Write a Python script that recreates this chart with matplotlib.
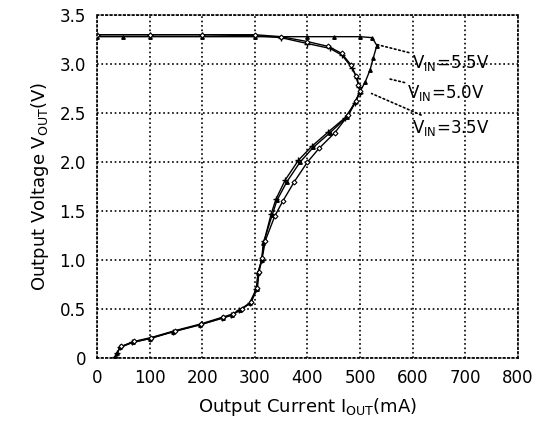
"""
Output voltage vs output current (foldback current limit) for three input voltages.
"""

import matplotlib
matplotlib.use("Agg")
import matplotlib.pyplot as plt

# === DATA ===
I_55 = [0, 50, 100, 200, 300, 400, 450, 500, 523, 532, 525, 519, 510, 500, 490,
        475, 443, 411, 386, 361, 342, 333, 316, 313, 306, 304, 291, 272, 257,
        240, 196, 145, 101, 68, 44, 38, 34]
V_55 = [3.28, 3.28, 3.28, 3.28, 3.28, 3.28, 3.28, 3.28, 3.27, 3.19, 3.06, 2.94,
        2.82, 2.72, 2.61, 2.46, 2.30, 2.15, 2.00, 1.80, 1.61, 1.46, 1.17, 1.00,
        0.87, 0.71, 0.56, 0.49, 0.44, 0.41, 0.34, 0.27, 0.20, 0.16, 0.11, 0.05,
        0.01]

I_50 = [0, 100, 200, 300, 350, 400, 443, 466, 485, 494, 498, 500, 490, 471,
        440, 408, 383, 358, 340, 331, 318, 313, 306, 303, 290, 270, 255, 238,
        195, 145, 100, 66, 44, 38, 34]
V_50 = [3.30, 3.30, 3.30, 3.29, 3.27, 3.21, 3.16, 3.09, 2.96, 2.86, 2.77, 2.71,
        2.60, 2.45, 2.31, 2.16, 2.02, 1.82, 1.62, 1.47, 1.20, 1.00, 0.87, 0.71,
        0.56, 0.49, 0.44, 0.41, 0.34, 0.27, 0.20, 0.16, 0.11, 0.05, 0.01]

I_35 = [0, 100, 200, 300, 350, 400, 440, 465, 483, 492, 497, 500, 492, 478,
        452, 422, 400, 375, 353, 338, 320, 314, 308, 305, 293, 275, 258, 240,
        198, 148, 103, 70, 46]
V_35 = [3.30, 3.30, 3.30, 3.30, 3.28, 3.23, 3.18, 3.11, 2.99, 2.88, 2.79, 2.73,
        2.62, 2.48, 2.30, 2.14, 2.00, 1.80, 1.60, 1.45, 1.20, 1.02, 0.88, 0.72,
        0.57, 0.50, 0.45, 0.42, 0.35, 0.28, 0.21, 0.17, 0.12]

LABELS = ["V$_\\mathrm{IN}$=5.5V", "V$_\\mathrm{IN}$=5.0V", "V$_\\mathrm{IN}$=3.5V"]
X_TICKS = [0, 100, 200, 300, 400, 500, 600, 700, 800]
Y_TICKS = [0, 0.5, 1.0, 1.5, 2.0, 2.5, 3.0, 3.5]
Y_TICKLABELS = ["0", "0.5", "1.0", "1.5", "2.0", "2.5", "3.0", "3.5"]

# leader lines: (point on curve, text position)
LEADERS = [((532, 3.20), (598, 3.01)),
           ((555, 2.85), (590, 2.71)),
           ((522, 2.70), (598, 2.35))]

plt.rcParams["font.family"] = "DejaVu Sans"

fig = plt.figure(figsize=(5.48, 4.32), dpi=100)
ax = fig.add_axes([0.177, 0.171, 0.768, 0.794])

ax.plot(I_55, V_55, color="black", linewidth=1.0, marker="^", markersize=2.5)
ax.plot(I_50, V_50, color="black", linewidth=1.0, marker="+", markersize=4)
ax.plot(I_35, V_35, color="black", linewidth=1.0, marker="D", markersize=2.5,
        markerfacecolor="white", markeredgewidth=0.8)

for label, (xy, xytext) in zip(LABELS, LEADERS):
    ax.annotate(label, xy=xy, xytext=xytext, fontsize=12, va="center", ha="left",
                arrowprops=dict(arrowstyle="-", linestyle=":", color="black",
                                linewidth=1.2, shrinkA=0, shrinkB=0))

ax.set_xlim(0, 800)
ax.set_ylim(0, 3.5)
ax.set_xticks(X_TICKS)
ax.set_yticks(Y_TICKS)
ax.set_yticklabels(Y_TICKLABELS)
ax.tick_params(length=0, labelsize=12, pad=8)
ax.grid(True, linestyle=":", color="black", linewidth=1.2)
for sp in ax.spines.values():
    sp.set_linestyle(":")
    sp.set_linewidth(1.2)

ax.set_xlabel("Output Current I$_\\mathrm{OUT}$(mA)", fontsize=13, labelpad=6)
ax.set_ylabel("Output Voltage V$_\\mathrm{OUT}$(V)", fontsize=13, labelpad=6)

fig.savefig("out.png", dpi=100)
